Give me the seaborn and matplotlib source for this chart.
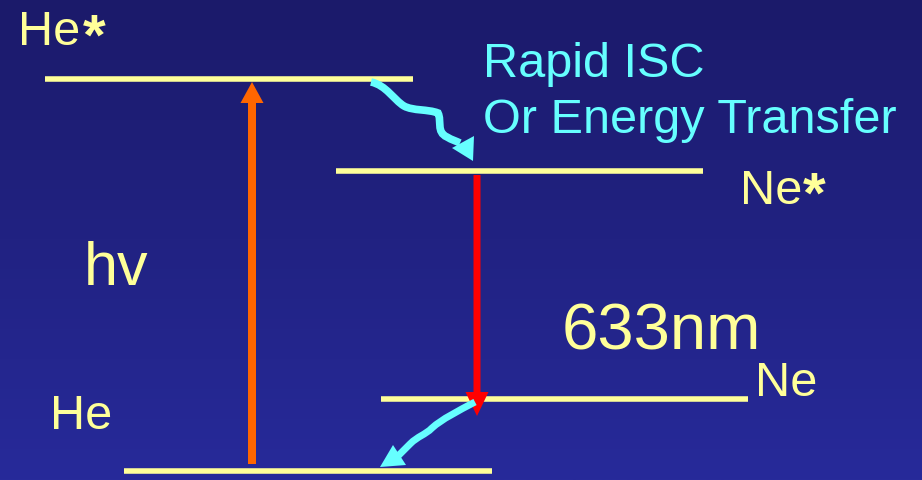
import numpy as np
import pandas as pd
import matplotlib
matplotlib.use("Agg")
import matplotlib.pyplot as plt
from matplotlib.colors import LinearSegmentedColormap
from matplotlib.path import Path
from matplotlib.patches import PathPatch, Polygon
import seaborn as sns

# ---- data (diagram coordinates, pixel-like units) ----
level_names = ["He*", "Ne*", "Ne", "He"]
level_y = [80, 172, 400, 472]
level_x0 = [45, 336, 381, 124]
level_x1 = [413, 703, 748, 492]

label_text = ["He", "Ne", "Ne", "He", "hv", "633nm"]
label_x = [18, 740, 755, 50, 84, 562]
label_y = [45, 204, 396, 429, 285, 350]
label_size = [35, 35, 35, 35, 44, 47]

star_text = ["*", "*"]
star_x = [94, 814]
star_y = [55, 213]

isc_text = ["Rapid ISC", "Or Energy Transfer"]
isc_text_x = [483, 483]
isc_text_y = [77, 133]

pump_x, pump_from, pump_to = 252, 465, 83
emit_x, emit_from, emit_to = 477, 176, 417

isc_vertices = [(371, 83), (386, 86), (394, 101), (404, 107), (413, 112), (428, 110), (438, 114),
                (442, 122), (436, 133), (447, 138), (452, 141), (456, 142), (460, 144)]
isc_head = [(473, 162), (474, 137), (452, 149)]
relax_vertices = [(475, 403), (458, 412), (442, 420), (432, 429), (425, 436), (418, 437), (410, 445), (398, 457)]
relax_head = [(380, 468), (393, 446), (406, 466)]

W, H = 922, 481
YELLOW = "#ffff99"
CYAN = "#66ffff"

sns.set_theme(style="white")
plt.rcParams["font.family"] = ["Liberation Sans", "DejaVu Sans"]

fig = plt.figure(figsize=(9.22, 4.81), dpi=100)
ax = fig.add_axes([0, 0, 1, 1])

grad = np.linspace(0, 1, 256)[:, None]
cmap = LinearSegmentedColormap.from_list("bg", ["#1b1a6a", "#272a9a"])
ax.imshow(grad, extent=[0, W, H, 0], cmap=cmap, aspect="auto", zorder=0)

# energy levels
rows = []
for n, y, a, b in zip(level_names, level_y, level_x0, level_x1):
    rows.append({"level": n, "x": a, "y": y})
    rows.append({"level": n, "x": b, "y": y})
df = pd.DataFrame(rows)
sns.lineplot(data=df, x="x", y="y", units="level", estimator=None, sort=False,
             color=YELLOW, lw=4, solid_capstyle="butt", legend=False, ax=ax, zorder=2)

# pump and emission arrows
ax.arrow(pump_x, pump_from, 0, pump_to - pump_from, width=8, head_width=23, head_length=21,
         length_includes_head=True, color="#ff6600", lw=0, zorder=3)
ax.arrow(emit_x, emit_from, 0, emit_to - emit_from, width=7, head_width=23, head_length=24,
         length_includes_head=True, color="#ff0000", lw=0, zorder=3)

# wavy cyan arrows
codes = [Path.MOVETO] + [Path.CURVE4] * (len(isc_vertices) - 1)
ax.add_patch(PathPatch(Path(isc_vertices, codes), fill=False, edgecolor=CYAN, lw=5.5,
                       capstyle="butt", zorder=4))
ax.add_patch(Polygon(isc_head, closed=True, facecolor=CYAN, edgecolor="none", zorder=4))

codes2 = [Path.MOVETO] + [Path.CURVE4] * 6 + [Path.LINETO]
ax.add_patch(PathPatch(Path(relax_vertices, codes2), fill=False, edgecolor=CYAN, lw=5,
                       capstyle="butt", zorder=4))
ax.add_patch(Polygon(relax_head, closed=True, facecolor=CYAN, edgecolor="none", zorder=4))

# labels
for t, x, y, s in zip(label_text, label_x, label_y, label_size):
    ax.text(x, y, t, color=YELLOW, fontsize=s, ha="left", va="baseline", zorder=5)
for t, x, y in zip(star_text, star_x, star_y):
    ax.text(x, y, t, color=YELLOW, fontsize=42, fontweight="bold",
            ha="center", va="baseline", zorder=5)
for t, x, y in zip(isc_text, isc_text_x, isc_text_y):
    ax.text(x, y, t, color=CYAN, fontsize=35, ha="left", va="baseline", zorder=5)

ax.set_xlim(0, W)
ax.set_ylim(H, 0)
ax.axis("off")
fig.savefig("out.png", dpi=100)
